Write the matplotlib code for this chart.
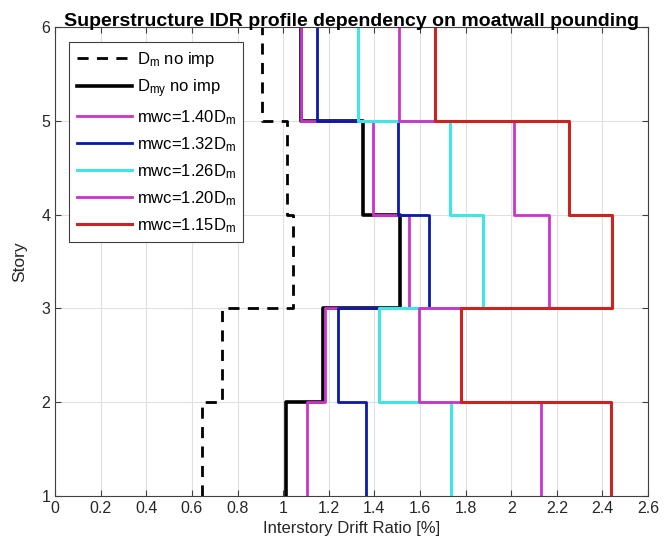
import numpy as np
import matplotlib
matplotlib.use("Agg")
import matplotlib.pyplot as plt

plt.rcParams["font.family"] = ["Liberation Sans", "DejaVu Sans"]
plt.rcParams["mathtext.fontset"] = "custom"
plt.rcParams["mathtext.rm"] = "Liberation Sans"
plt.rcParams["mathtext.it"] = "Liberation Sans"

# story boundaries (floor levels) and IDR per story, story 1-2 first
stories = [1, 2, 3, 4, 5, 6]

idr_dm = [0.645, 0.730, 1.045, 1.018, 0.908]
idr_dmy = [1.014, 1.175, 1.513, 1.352, 1.076]
idr_140 = [1.104, 1.185, 1.550, 1.395, 1.076]
idr_132 = [1.363, 1.241, 1.640, 1.505, 1.150]
idr_126 = [1.735, 1.420, 1.875, 1.730, 1.330]
idr_120 = [2.130, 1.595, 2.165, 2.010, 1.508]
idr_115 = [2.438, 1.780, 2.442, 2.255, 1.665]

labels = [
    r"$\mathrm{D_m}$ no imp",
    r"$\mathrm{D_{my}}$ no imp",
    r"mwc=1.40$\mathrm{D_m}$",
    r"mwc=1.32$\mathrm{D_m}$",
    r"mwc=1.26$\mathrm{D_m}$",
    r"mwc=1.20$\mathrm{D_m}$",
    r"mwc=1.15$\mathrm{D_m}$",
]
series = [idr_dm, idr_dmy, idr_140, idr_132, idr_126, idr_120, idr_115]
colors = ["black", "black", "#cc33cc", "#0a1aa8", "#3ee6e6", "#cc33cc", "#cc2222"]
styles = ["--", "-", "-", "-", "-", "-", "-"]
widths = [2.0, 2.6, 2.0, 2.0, 2.2, 2.0, 2.2]


def profile(vals):
    # vertical segment for each story, joined by horizontal steps at floors
    xs = np.repeat(vals, 2)
    ys = np.concatenate([[stories[0]], np.repeat(stories[1:-1], 2), [stories[-1]]])
    return xs, ys


fig = plt.figure(figsize=(6.64, 5.57), dpi=100)
ax = fig.add_axes([0.083, 0.11, 0.893, 0.841])

for vals, lab, c, ls, lw in zip(series, labels, colors, styles, widths):
    xs, ys = profile(vals)
    if ls == "--":
        ax.plot(xs, ys, color=c, linestyle=ls, linewidth=lw, label=lab, dashes=(4, 3))
    else:
        ax.plot(xs, ys, color=c, linestyle=ls, linewidth=lw, label=lab)

ax.set_xlim(0, 2.6)
ax.set_ylim(1, 6)
ax.set_xticks(np.arange(0, 2.61, 0.2))
ax.set_xticklabels(["0", "0.2", "0.4", "0.6", "0.8", "1", "1.2", "1.4", "1.6",
                    "1.8", "2", "2.2", "2.4", "2.6"])
ax.set_yticks(stories)
ax.tick_params(labelsize=11.5, direction="in", length=4, color="#404040",
               top=True, right=True, labelcolor="#262626")
ax.grid(True, color="#e0e0e0", linewidth=0.8)
for s in ax.spines.values():
    s.set_color("#404040")
    s.set_linewidth(0.8)

ax.set_xlabel("Interstory Drift Ratio [%]", fontsize=12, color="#262626")
ax.set_ylabel("Story", fontsize=12.5, color="#262626", labelpad=10)
ax.set_title("Superstructure IDR profile dependency on moatwall pounding",
             fontsize=14, fontweight="bold", pad=1)

leg = ax.legend(loc="upper left", bbox_to_anchor=(0.0236, 0.968), fontsize=12,
                fancybox=False, edgecolor="#404040", framealpha=1,
                borderaxespad=0, handlelength=3.3, labelspacing=0.5,
                borderpad=0.45, handletextpad=0.3)
leg.get_frame().set_linewidth(0.8)

fig.savefig("out.png", dpi=100)
